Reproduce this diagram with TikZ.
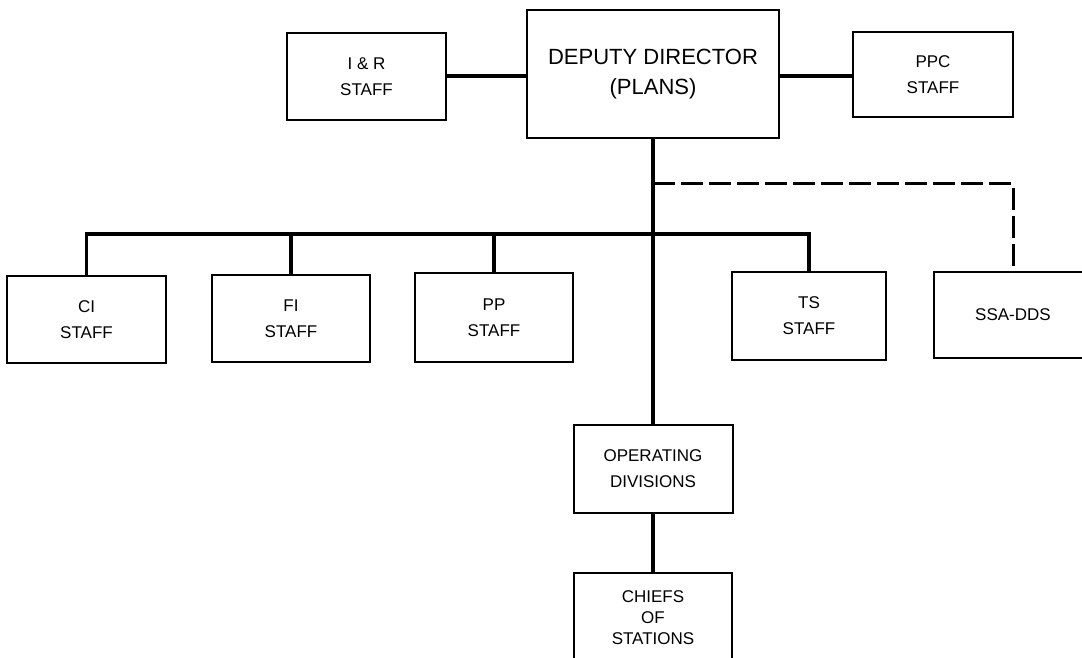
\documentclass[tikz,border=0pt]{standalone}
\usepackage{fontspec}
\setmainfont{Liberation Sans}
\begin{document}
\begin{tikzpicture}[x=1pt,y=-1pt,
  box/.style={draw,line width=2pt,align=center,inner sep=0pt,
    font=\fontsize{17}{26}\selectfont},
  bigbox/.style={box,font=\fontsize{22}{30}\selectfont},
  conn/.style={line width=3.5pt,line join=miter},
  dconn/.style={line width=3pt,dash pattern=on 22pt off 6pt}]
\useasboundingbox (0,0) rectangle (1082,658);
\clip (0,0) rectangle (1082,658);
% top row
\node[bigbox,minimum width=252pt,minimum height=128pt] (dd) at (653,74) {DEPUTY DIRECTOR\\(PLANS)};
\node[box,minimum width=159pt,minimum height=87pt] (ir) at (366.5,76.5) {I \& R\\STAFF};
\node[box,minimum width=160pt,minimum height=85pt] (ppc) at (933,74.5) {PPC\\STAFF};
% staff row
\node[box,minimum width=159pt,minimum height=87pt] (ci) at (86.5,319.5) {CI\\STAFF};
\node[box,minimum width=158pt,minimum height=87pt] (fi) at (291,318.5) {FI\\STAFF};
\node[box,minimum width=158pt,minimum height=89pt] (pp) at (494,317.5) {PP\\STAFF};
\node[box,minimum width=154pt,minimum height=88pt] (ts) at (809,316) {TS\\STAFF};
\node[box,minimum width=158pt,minimum height=86pt] (ssa) at (1013,315) {SSA-DDS};
% lower column
\node[box,minimum width=159pt,minimum height=88pt] (od) at (653,469) {OPERATING\\DIVISIONS};
\node[box,minimum width=158pt,minimum height=90pt,font=\fontsize{17}{21}\selectfont] (cos) at (653,618) {CHIEFS\\OF\\STATIONS};
% junctions
\coordinate (bus) at (653,234);
\coordinate (dj) at (653,184);
% connectors
\draw[conn] (ir.east |- 0,76) -- (dd.west |- 0,76);
\draw[conn] (dd.east |- 0,76) -- (ppc.west |- 0,76);
\draw[conn] (dd.south) -- (od.north);
\draw[conn] (od.south) -- (cos.north);
\draw[conn] (ci.north) -- (ci.north |- bus) -- (ts.north |- bus) -- (ts.north);
\draw[conn] (fi.north |- bus) -- (fi.north);
\draw[conn] (pp.north |- bus) -- (pp.north);
\draw[dconn] (dj) -- (ssa.north |- dj) -- (ssa.north);
\end{tikzpicture}
\end{document}
